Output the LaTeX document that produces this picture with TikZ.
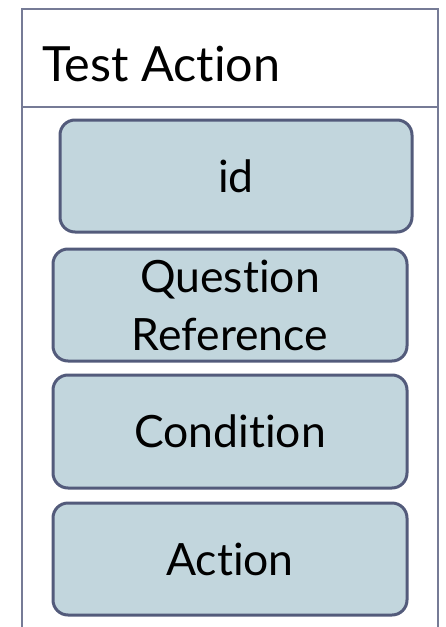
\documentclass[tikz,border=0pt]{standalone}
\usepackage{fontspec}
\setmainfont{Lato}[RawFeature={-liga,-dlig}]
\begin{document}
\begin{tikzpicture}[x=1pt,y=-1pt,
  field/.style={draw=fieldline, line width=3pt, fill=fieldfill, rounded corners=15pt,
    inner sep=0pt, align=center, font=\fontsize{44.5}{58}\selectfont},
  frameline/.style={draw=framecol, line width=2.5pt}]
  \definecolor{fieldline}{HTML}{535B7B}
  \definecolor{fieldfill}{HTML}{C2D6DD}
  \definecolor{framecol}{HTML}{767B96}
  \useasboundingbox (0,0) rectangle (446,627);
  % class frame with its title compartment
  \draw[frameline] (22,640) -- (22,9) -- (438,9) -- (438,640);
  \draw[frameline] (22,107) -- (438,107);
  \node[anchor=base west, font=\fontsize{48.5}{56}\selectfont, inner sep=0pt] (title) at (42,81) {Test Action};
  % attribute fields
  \node[field, minimum width=352pt, minimum height=112pt] (id) at (236,176) {id};
  \node[field, minimum width=354pt, minimum height=112pt] (qref) at (230,305) {Question\\Reference};
  \node[field, minimum width=354pt, minimum height=113pt] (cond) at (230,431.5) {Condition};
  \node[field, minimum width=354pt, minimum height=112pt] (act) at (230,559) {Action};
\end{tikzpicture}
\end{document}
